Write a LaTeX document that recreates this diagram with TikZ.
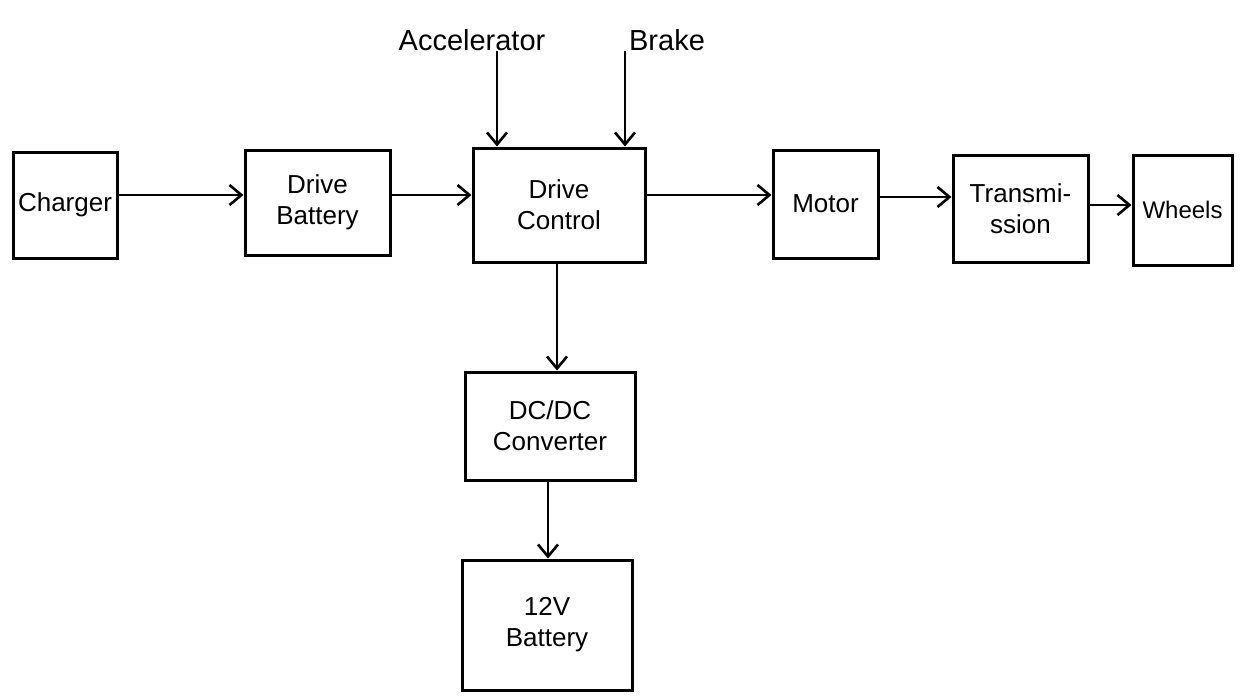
\documentclass[tikz,border=0pt]{standalone}
\usepackage{fontspec}
\setmainfont{Liberation Sans}
\usetikzlibrary{arrows.meta}
\begin{document}
\begin{tikzpicture}[x=1pt,y=-1pt,
  blk/.style={draw, line width=3pt, inner sep=0pt, align=center, font=\fontsize{26}{31}\selectfont},
  conn/.style={line width=2.6pt, -{Straight Barb[length=12pt,width=20pt,line width=2.6pt]}},
  lbl/.style={font=\fontsize{29}{33}\selectfont, inner sep=0pt}]
\fill[white] (0,0) rectangle (1247,697);
\useasboundingbox (0,0) rectangle (1247,697);
\node[blk, minimum width=104pt, minimum height=106pt] (ch) at (65,205) {Charger};
\node[blk, minimum width=145pt, minimum height=105pt] (db) at (317.5,202.5) {Drive\\Battery};
\node[blk, minimum width=172pt, minimum height=114pt] (dc) at (559,205) {Drive\\Control};
\node[blk, minimum width=105pt, minimum height=108pt] (mo) at (825.5,204) {Motor};
\node[blk, minimum width=135pt, minimum height=107pt] (tr) at (1020.5,208.5) {Transmi-\\ssion};
\node[blk, minimum width=99pt, minimum height=110pt, font=\fontsize{24}{28}\selectfont] (wh) at (1182.5,210) {Wheels};
\node[blk, minimum width=170pt, minimum height=108pt] (cv) at (550,426) {DC/DC\\Converter};
\node[blk, minimum width=170pt, minimum height=130pt] (bt) at (547,625) {12V\\Battery};
\node[lbl] (acc) at (472,40) {Accelerator};
\node[lbl] (brk) at (667,40) {Brake};
\draw[conn] (ch.east |- 0,195) -- (db.west |- 0,195);
\draw[conn] (db.east |- 0,195) -- (dc.west |- 0,195);
\draw[conn] (dc.east |- 0,195) -- (mo.west |- 0,195);
\draw[conn] (mo.east |- 0,197) -- (tr.west |- 0,197);
\draw[conn] (tr.east |- 0,205) -- (wh.west |- 0,205);
\draw[conn] (acc.south -| 497,0) -- (dc.north -| 497,0);
\draw[conn] (brk.south -| 625,0) -- (dc.north -| 625,0);
\draw[conn] (dc.south -| 557,0) -- (cv.north -| 557,0);
\draw[conn] (cv.south -| 548,0) -- (bt.north -| 548,0);
\end{tikzpicture}
\end{document}
